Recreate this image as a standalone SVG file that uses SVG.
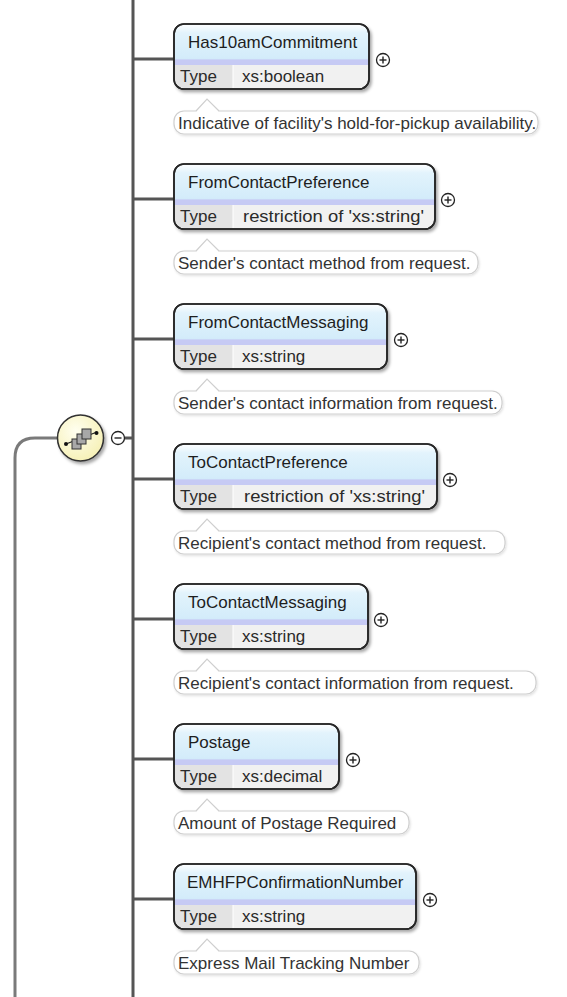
<svg xmlns="http://www.w3.org/2000/svg" width="567" height="997" viewBox="0 0 567 997">
<defs>
<linearGradient id="boxfill" x1="0" y1="0" x2="0" y2="1">
<stop offset="0" stop-color="#ffffff"/>
<stop offset="0.14" stop-color="#e2f3fc"/>
<stop offset="0.53" stop-color="#d3ecfa"/>
<stop offset="0.555" stop-color="#c6caf4"/>
<stop offset="0.625" stop-color="#c6caf4"/>
<stop offset="0.63" stop-color="#f1f1f1"/>
<stop offset="1" stop-color="#f1f1f1"/>
</linearGradient>
<radialGradient id="compfill" cx="0.4" cy="0.35" r="0.7">
<stop offset="0" stop-color="#fffff0"/>
<stop offset="1" stop-color="#f6f0b4"/>
</radialGradient>
<filter id="shadow" x="-10%" y="-10%" width="130%" height="140%">
<feDropShadow dx="2" dy="2.5" stdDeviation="1.5" flood-color="#000" flood-opacity="0.35"/>
</filter>
<filter id="ashadow" x="-5%" y="-20%" width="110%" height="150%">
<feDropShadow dx="1" dy="1.5" stdDeviation="1" flood-color="#000" flood-opacity="0.12"/>
</filter>
</defs>
<style>
.box{fill:url(#boxfill);stroke:#262626;stroke-width:1.6}
.tcell{fill:#e3e3e3}
.div{stroke:#ffffff;stroke-width:1}
.name{font-family:"Liberation Sans",Arial,sans-serif;font-size:17px;fill:#1e1e1e}
.lbl{font-family:"Liberation Sans",Arial,sans-serif;font-size:17px;fill:#2a2a2a}
.ann{fill:#ffffff;stroke:#cfcfcf;stroke-width:1.2}
.anntxt{font-family:"Liberation Sans",Arial,sans-serif;font-size:17px;fill:#333333}
.ptr{fill:#ffffff;stroke:#cfcfcf;stroke-width:1.2;stroke-linejoin:miter}
.ptrcover{fill:#ffffff;stroke:none}
.pm{fill:#ffffff;stroke:#222222;stroke-width:1.3}
.pmline{stroke:#222222;stroke-width:1.4}
.conn{stroke:#555555;stroke-width:3;fill:none}
.conn2{stroke:#7a7a7a;stroke-width:3;fill:none}
</style>

<g id="connectors">
<line class="conn" x1="133" y1="0" x2="133" y2="997"/>
<path class="conn2" d="M15 997 V458 Q15 438 35 438 H58"/>
<line class="conn" x1="124" y1="438" x2="133" y2="438"/>
<line class="conn" x1="133" y1="59" x2="175" y2="59"/>
<line class="conn" x1="133" y1="199" x2="175" y2="199"/>
<line class="conn" x1="133" y1="339" x2="175" y2="339"/>
<line class="conn" x1="133" y1="479" x2="175" y2="479"/>
<line class="conn" x1="133" y1="619" x2="175" y2="619"/>
<line class="conn" x1="133" y1="759" x2="175" y2="759"/>
<line class="conn" x1="133" y1="899" x2="175" y2="899"/>
</g>

<g id="sequence">
<circle cx="80.5" cy="438" r="23" fill="url(#compfill)" stroke="#303030" stroke-width="1.5" filter="url(#shadow)"/>
<line x1="66" y1="444" x2="97" y2="432" stroke="#222" stroke-width="1.3"/>
<rect x="72" y="439" width="9" height="10" fill="#a8a8a8" stroke="#333" stroke-width="1"/>
<rect x="77" y="434" width="9" height="10" fill="#a8a8a8" stroke="#333" stroke-width="1"/>
<rect x="82" y="429" width="9" height="10" fill="#a8a8a8" stroke="#333" stroke-width="1"/>
<circle cx="66" cy="444" r="2" fill="#111"/>
<circle cx="96.5" cy="433" r="2" fill="#111"/>
<circle class="pm" cx="118" cy="438" r="6.5"/>
<line class="pmline" x1="114.5" y1="438" x2="121.5" y2="438"/>
</g>

<g id="node-Has10amCommitment">
<rect class="box" x="174" y="24" width="195" height="65" rx="10" filter="url(#shadow)"/>
<path class="tcell" d="M233 65 H175 V79 A9 9 0 0 0 184 88 H233 Z"/>
<line class="div" x1="233" y1="65" x2="233" y2="88"/>
<rect x="174" y="24" width="195" height="65" rx="10" fill="none" stroke="#262626" stroke-width="1.6"/>
<text class="name" x="188" y="48">Has10amCommitment</text>
<text class="lbl" x="180" y="82">Type</text>
<text class="lbl" x="242" y="82">xs:boolean</text>
<circle class="pm" cx="383" cy="60" r="6.5"/>
<line class="pmline" x1="379.5" y1="60" x2="386.5" y2="60"/>
<line class="pmline" x1="383" y1="56.5" x2="383" y2="63.5"/>
<rect class="ann" x="174" y="111" width="364" height="23" rx="10" filter="url(#ashadow)"/>
<polygon class="ptrcover" points="196,112 207,99 219,112"/>
<polyline class="ptr" fill="none" points="196,111 207,99 219,111"/>
<text class="anntxt" x="178" y="129">Indicative of facility's hold-for-pickup availability.</text>
</g>

<g id="node-FromContactPreference">
<rect class="box" x="174" y="164" width="261" height="65" rx="10" filter="url(#shadow)"/>
<path class="tcell" d="M233 205 H175 V219 A9 9 0 0 0 184 228 H233 Z"/>
<line class="div" x1="233" y1="205" x2="233" y2="228"/>
<rect x="174" y="164" width="261" height="65" rx="10" fill="none" stroke="#262626" stroke-width="1.6"/>
<text class="name" x="188" y="188">FromContactPreference</text>
<text class="lbl" x="180" y="222">Type</text>
<text class="lbl" x="243" y="222" textLength="181" lengthAdjust="spacingAndGlyphs">restriction of 'xs:string'</text>
<circle class="pm" cx="448" cy="200" r="6.5"/>
<line class="pmline" x1="444.5" y1="200" x2="451.5" y2="200"/>
<line class="pmline" x1="448" y1="196.5" x2="448" y2="203.5"/>
<rect class="ann" x="174" y="251" width="304" height="23" rx="10" filter="url(#ashadow)"/>
<polygon class="ptrcover" points="196,252 207,239 219,252"/>
<polyline class="ptr" fill="none" points="196,251 207,239 219,251"/>
<text class="anntxt" x="178" y="269">Sender's contact method from request.</text>
</g>

<g id="node-FromContactMessaging">
<rect class="box" x="174" y="304" width="213" height="65" rx="10" filter="url(#shadow)"/>
<path class="tcell" d="M233 345 H175 V359 A9 9 0 0 0 184 368 H233 Z"/>
<line class="div" x1="233" y1="345" x2="233" y2="368"/>
<rect x="174" y="304" width="213" height="65" rx="10" fill="none" stroke="#262626" stroke-width="1.6"/>
<text class="name" x="188" y="328">FromContactMessaging</text>
<text class="lbl" x="180" y="362">Type</text>
<text class="lbl" x="242" y="362">xs:string</text>
<circle class="pm" cx="401" cy="340" r="6.5"/>
<line class="pmline" x1="397.5" y1="340" x2="404.5" y2="340"/>
<line class="pmline" x1="401" y1="336.5" x2="401" y2="343.5"/>
<rect class="ann" x="174" y="391" width="328" height="23" rx="10" filter="url(#ashadow)"/>
<polygon class="ptrcover" points="196,392 207,379 219,392"/>
<polyline class="ptr" fill="none" points="196,391 207,379 219,391"/>
<text class="anntxt" x="178" y="409">Sender's contact information from request.</text>
</g>

<g id="node-ToContactPreference">
<rect class="box" x="174" y="444" width="263" height="65" rx="10" filter="url(#shadow)"/>
<path class="tcell" d="M233 485 H175 V499 A9 9 0 0 0 184 508 H233 Z"/>
<line class="div" x1="233" y1="485" x2="233" y2="508"/>
<rect x="174" y="444" width="263" height="65" rx="10" fill="none" stroke="#262626" stroke-width="1.6"/>
<text class="name" x="188" y="468">ToContactPreference</text>
<text class="lbl" x="180" y="502">Type</text>
<text class="lbl" x="244" y="502" textLength="181" lengthAdjust="spacingAndGlyphs">restriction of 'xs:string'</text>
<circle class="pm" cx="450" cy="480" r="6.5"/>
<line class="pmline" x1="446.5" y1="480" x2="453.5" y2="480"/>
<line class="pmline" x1="450" y1="476.5" x2="450" y2="483.5"/>
<rect class="ann" x="174" y="531" width="331" height="23" rx="10" filter="url(#ashadow)"/>
<polygon class="ptrcover" points="196,532 207,519 219,532"/>
<polyline class="ptr" fill="none" points="196,531 207,519 219,531"/>
<text class="anntxt" x="178" y="549">Recipient's contact method from request.</text>
</g>

<g id="node-ToContactMessaging">
<rect class="box" x="174" y="584" width="194" height="65" rx="10" filter="url(#shadow)"/>
<path class="tcell" d="M233 625 H175 V639 A9 9 0 0 0 184 648 H233 Z"/>
<line class="div" x1="233" y1="625" x2="233" y2="648"/>
<rect x="174" y="584" width="194" height="65" rx="10" fill="none" stroke="#262626" stroke-width="1.6"/>
<text class="name" x="188" y="608">ToContactMessaging</text>
<text class="lbl" x="180" y="642">Type</text>
<text class="lbl" x="242" y="642">xs:string</text>
<circle class="pm" cx="381" cy="620" r="6.5"/>
<line class="pmline" x1="377.5" y1="620" x2="384.5" y2="620"/>
<line class="pmline" x1="381" y1="616.5" x2="381" y2="623.5"/>
<rect class="ann" x="174" y="671" width="362" height="23" rx="10" filter="url(#ashadow)"/>
<polygon class="ptrcover" points="196,672 207,659 219,672"/>
<polyline class="ptr" fill="none" points="196,671 207,659 219,671"/>
<text class="anntxt" x="178" y="689">Recipient's contact information from request.</text>
</g>

<g id="node-Postage">
<rect class="box" x="174" y="724" width="165" height="65" rx="10" filter="url(#shadow)"/>
<path class="tcell" d="M233 765 H175 V779 A9 9 0 0 0 184 788 H233 Z"/>
<line class="div" x1="233" y1="765" x2="233" y2="788"/>
<rect x="174" y="724" width="165" height="65" rx="10" fill="none" stroke="#262626" stroke-width="1.6"/>
<text class="name" x="188" y="748">Postage</text>
<text class="lbl" x="180" y="782">Type</text>
<text class="lbl" x="242" y="782">xs:decimal</text>
<circle class="pm" cx="353" cy="760" r="6.5"/>
<line class="pmline" x1="349.5" y1="760" x2="356.5" y2="760"/>
<line class="pmline" x1="353" y1="756.5" x2="353" y2="763.5"/>
<rect class="ann" x="174" y="811" width="235" height="23" rx="10" filter="url(#ashadow)"/>
<polygon class="ptrcover" points="196,812 207,799 219,812"/>
<polyline class="ptr" fill="none" points="196,811 207,799 219,811"/>
<text class="anntxt" x="178" y="829">Amount of Postage Required</text>
</g>

<g id="node-EMHFPConfirmationNumber">
<rect class="box" x="174" y="864" width="242" height="65" rx="10" filter="url(#shadow)"/>
<path class="tcell" d="M233 905 H175 V919 A9 9 0 0 0 184 928 H233 Z"/>
<line class="div" x1="233" y1="905" x2="233" y2="928"/>
<rect x="174" y="864" width="242" height="65" rx="10" fill="none" stroke="#262626" stroke-width="1.6"/>
<text class="name" x="187" y="888">EMHFPConfirmationNumber</text>
<text class="lbl" x="180" y="922">Type</text>
<text class="lbl" x="242" y="922">xs:string</text>
<circle class="pm" cx="430" cy="900" r="6.5"/>
<line class="pmline" x1="426.5" y1="900" x2="433.5" y2="900"/>
<line class="pmline" x1="430" y1="896.5" x2="430" y2="903.5"/>
<rect class="ann" x="174" y="951" width="245" height="23" rx="10" filter="url(#ashadow)"/>
<polygon class="ptrcover" points="196,952 207,939 219,952"/>
<polyline class="ptr" fill="none" points="196,951 207,939 219,951"/>
<text class="anntxt" x="178" y="969">Express Mail Tracking Number</text>
</g>
</svg>
